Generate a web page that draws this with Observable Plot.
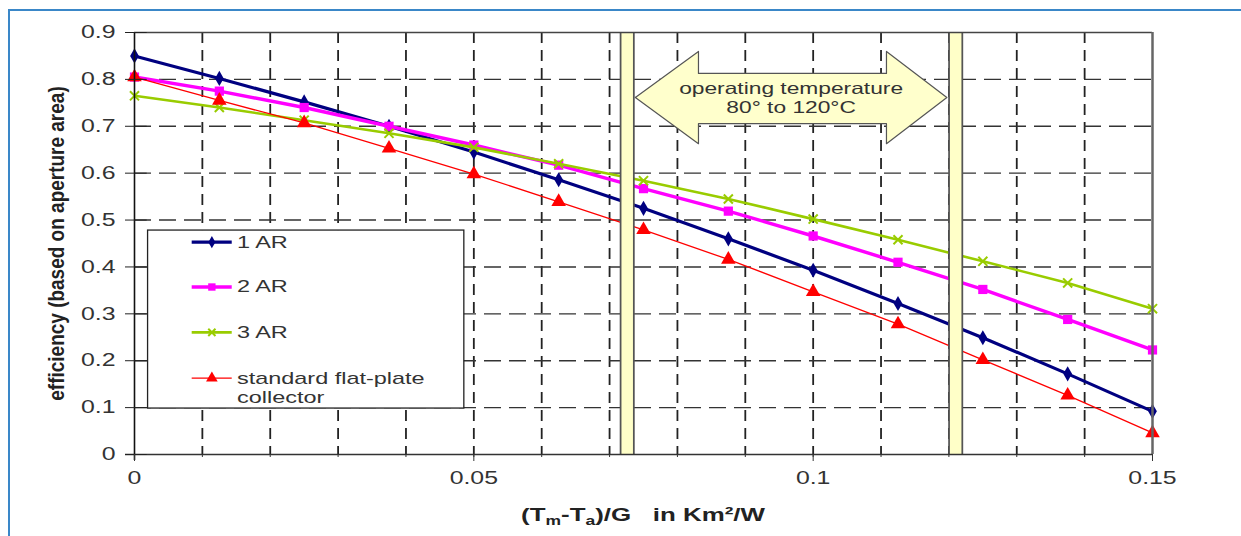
<!DOCTYPE html>
<html><head><meta charset="utf-8">
<script src="https://cdn.jsdelivr.net/npm/d3@7"></script>
<script src="https://cdn.jsdelivr.net/npm/@observablehq/plot@0.6"></script>
<style>
html,body{margin:0;padding:0;background:#fff;}
#wrap{position:relative;width:1241px;height:536px;overflow:hidden;}
#wrap svg{display:block;}
#edge{position:absolute;left:8px;top:9px;width:1300px;height:600px;border-top:2px solid #3a87c8;border-left:2px solid #3a87c8;pointer-events:none;}
</style></head><body>
<div id="wrap"></div>
<script>
// ---- data ----
const xValues = [0, 0.0125, 0.025, 0.0375, 0.05, 0.0625, 0.075, 0.0875, 0.1, 0.1125, 0.125, 0.1375, 0.15];
const effAR1  = [0.85, 0.802, 0.752, 0.700, 0.645, 0.586, 0.525, 0.460, 0.393, 0.322, 0.249, 0.172, 0.092];
const effAR2  = [0.805, 0.775, 0.740, 0.700, 0.660, 0.617, 0.567, 0.519, 0.466, 0.410, 0.352, 0.288, 0.223];
const effAR3  = [0.765, 0.740, 0.713, 0.685, 0.655, 0.620, 0.584, 0.545, 0.502, 0.458, 0.412, 0.366, 0.311];
const effFlat = [0.805, 0.755, 0.707, 0.653, 0.598, 0.539, 0.479, 0.416, 0.347, 0.278, 0.202, 0.126, 0.046];
const seriesNames = ["1 AR", "2 AR", "3 AR", "standard flat-plate\ncollector"];
const xTickValues = [0, 0.05, 0.1, 0.15];
const xGridValues = [0.01, 0.02, 0.03, 0.04, 0.05, 0.06, 0.07, 0.08, 0.09, 0.1, 0.11, 0.12, 0.13, 0.14];
const yTickValues = [0, 0.1, 0.2, 0.3, 0.4, 0.5, 0.6, 0.7, 0.8, 0.9];
const yGridValues = [0.1, 0.2, 0.3, 0.4, 0.5, 0.6, 0.7, 0.8];
const operatingBounds = [0.0726, 0.121];
const arrowX = [0.0738, 0.0831, 0.0831, 0.1108, 0.1108, 0.1197, 0.1108, 0.1108, 0.0831, 0.0831, 0.0738];
const arrowY = [0.7615, 0.8596, 0.8127, 0.8127, 0.8596, 0.7615, 0.6628, 0.7055, 0.7055, 0.6628, 0.7615];
const arrowLabel = "operating temperature\n80° to 120°C";
const yLabel = "efficiency (based on aperture area)";

// ---- styles / layout ----
const seriesValues = [effAR1, effAR2, effAR3, effFlat];
const seriesStyle = [
  {color: "#000080", symbol: "diamond", width: 3.2, r: 4.6},
  {color: "#ff00ff", symbol: "square", width: 3.4, r: 5.2},
  {color: "#99cc00", symbol: "times", width: 2.6, r: 4.2},
  {color: "#ff0000", symbol: "triangle", width: 1.3, r: 5.4}
];
const legendLayout = {x1: 0.002, x2: 0.0486, y1: 0.098, y2: 0.4776,
  lineX1: 0.0085, lineX2: 0.0144, markX: 0.0114, textX: 0.0151,
  rowY: [0.4528, 0.3572, 0.2604, 0.1628]};
const font = '"Liberation Sans", Arial, sans-serif';

const rows = seriesNames.flatMap((name, k) => xValues.map((x, i) => ({x, y: seriesValues[k][i], k})));
const arrowPts = arrowX.map((x, i) => ({x, y: arrowY[i]}));
const legendRows = seriesNames.map((name, k) => ({k, y: legendLayout.rowY[k], lines: name.split("\n")}));

const seriesMarks = seriesNames.flatMap((name, k) => {
  const st = seriesStyle[k];
  const data = rows.filter(d => d.k === k);
  const stroked = st.symbol === "times";
  return [
    Plot.line(data, {x: "x", y: "y", stroke: st.color, strokeWidth: st.width}),
    Plot.dot(data, {x: "x", y: "y", symbol: () => st.symbol, r: st.r,
      fill: stroked ? "none" : st.color, stroke: stroked ? st.color : "none", strokeWidth: stroked ? 2 : 0})
  ];
});

const legendMarks = [
  Plot.rect([legendLayout], {x1: "x1", x2: "x2", y1: "y1", y2: "y2", fill: "white", stroke: "#222", strokeWidth: 1.3}),
  ...legendRows.flatMap(d => {
    const st = seriesStyle[d.k];
    const stroked = st.symbol === "times";
    return [
      Plot.ruleY([d], {y: "y", x1: () => legendLayout.lineX1, x2: () => legendLayout.lineX2, stroke: st.color, strokeWidth: st.width}),
      Plot.dot([d], {x: () => legendLayout.markX, y: "y", symbol: () => st.symbol, r: st.r * 0.8,
        fill: stroked ? "none" : st.color, stroke: stroked ? st.color : "none", strokeWidth: stroked ? 2 : 0})
    ];
  }),
  Plot.text(legendRows, {x: () => legendLayout.textX, y: "y", text: d => d.lines[0], textAnchor: "start",
    fontSize: 17, fill: "#333"}),
  Plot.text(legendRows.filter(d => d.lines.length > 1), {x: () => legendLayout.textX, y: "y", text: d => d.lines[1], dy: 19,
    textAnchor: "start", fontSize: 17, fill: "#333"})
];

const plot = Plot.plot({
  width: 1241, height: 536,
  marginLeft: 134, marginRight: 89, marginTop: 32, marginBottom: 82,
  x: {domain: [0, 0.15], label: null},
  y: {domain: [0, 0.9], label: null},
  style: {fontFamily: font, background: "transparent", color: "#333"},
  marks: [
    // grid
    Plot.ruleX(xGridValues, {stroke: "#222", strokeWidth: 1.8, strokeDasharray: "11,7"}),
    Plot.ruleY(yGridValues, {stroke: "#333", strokeWidth: 1.4, strokeDasharray: "17,8"}),
    // series
    ...seriesMarks,
    // operating temperature bars
    Plot.ruleX(operatingBounds, {stroke: "#555", strokeWidth: 15}),
    Plot.ruleX(operatingBounds, {stroke: "#ffffc8", strokeWidth: 11.5}),
    // arrow
    Plot.line(arrowPts, {x: "x", y: "y", fill: "#ffffcc", stroke: "#555", strokeWidth: 1.2}),
    Plot.text([arrowLabel], {x: () => d3.mean(d3.extent(arrowX)), y: () => arrowY[0], text: d => d,
      fontSize: 16.5, lineHeight: 1.18, fill: "#333"}),
    // legend
    ...legendMarks,
    // frame
    Plot.ruleY([0.9], {stroke: "#444", strokeWidth: 1.5}),
    Plot.ruleX([0.15], {stroke: "#666", strokeWidth: 2.5}),
    Plot.ruleY([0], {stroke: "#333", strokeWidth: 1.6, insetLeft: -9}),
    Plot.ruleX([0], {stroke: "#111", strokeWidth: 1.6, insetBottom: -6}),
    // axes
    Plot.axisY(yTickValues, {tickSize: 9, tickPadding: 10, fontSize: 18, tickFormat: d => String(d),
      stroke: "#222", fill: "#333", label: null}),
    Plot.axisY(yTickValues, {tickSize: 12.7, dx: 12.7, fill: "none", stroke: "#222", label: null}),
    Plot.axisX(xTickValues, {tickSize: 7, tickPadding: 10, fontSize: 18, tickFormat: d => String(d),
      stroke: "#333", fill: "#333", label: null}),
    Plot.axisX(xGridValues, {tickSize: 3, fill: "none", stroke: "#333", label: null}),
    // y label
    Plot.text([yLabel], {frameAnchor: "left", dx: -78, rotate: -90, textAnchor: "middle", text: d => d, fontSize: 19,
      fontWeight: "bold", fill: "#222"})
  ]
});

const wrap = document.getElementById("wrap");
wrap.append(plot);
const edge = document.createElement("div");
edge.id = "edge";
wrap.append(edge);

// the reference is horizontally stretched: widen every glyph around its anchor
d3.select(plot).selectAll("text").each(function() {
  const x = +this.getAttribute("x") || 0, y = +this.getAttribute("y") || 0;
  let t = this.getAttribute("transform") || "";
  if (x || y) { this.removeAttribute("x"); this.removeAttribute("y"); t += ` translate(${x},${y})`; }
  const rotated = /rotate/.test(t);
  this.setAttribute("transform", `${t} ${rotated ? "scale(1,1.2)" : "scale(1.38,1)"}`);
});

// x-axis title with subscripts
const xr = plot.scale ? plot.scale("x").range : [134, 1152];
const xl = d3.select(plot).append("text")
  .attr("transform", `translate(${(xr[0] + xr[1]) / 2},521) scale(1.4,1)`)
  .attr("text-anchor", "middle")
  .attr("font-family", font).attr("font-weight", "bold").attr("font-size", 18.5)
  .attr("fill", "#222").style("white-space", "pre");
xl.append("tspan").text("(T");
xl.append("tspan").attr("font-size", 12.5).attr("dy", 4).text("m");
xl.append("tspan").attr("dy", -4).text("-T");
xl.append("tspan").attr("font-size", 12.5).attr("dy", 4).text("a");
xl.append("tspan").attr("dy", -4).text(")/G   in Km²/W");
</script>
</body></html>
